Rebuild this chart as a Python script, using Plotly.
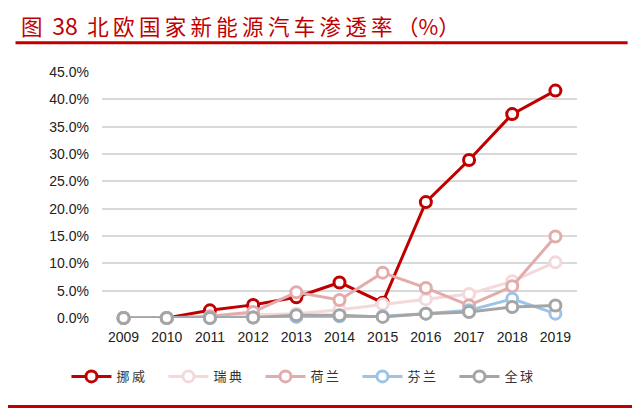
import plotly.graph_objects as go

years = ["2009", "2010", "2011", "2012", "2013", "2014", "2015", "2016", "2017", "2018", "2019"]
norway = [0.0, 0.0, 1.4, 2.4, 3.8, 6.5, 2.8, 21.2, 28.9, 37.3, 41.6]
sweden = [0.0, 0.0, 0.1, 0.6, 0.8, 1.5, 2.5, 3.4, 4.4, 6.7, 10.2]
netherlands = [0.0, 0.0, 0.3, 1.1, 4.7, 3.3, 8.3, 5.5, 2.3, 5.8, 14.9]
finland = [0.0, 0.0, 0.0, 0.1, 0.2, 0.3, 0.3, 0.8, 1.4, 3.5, 0.8]
world = [0.0, 0.0, 0.0, 0.1, 0.5, 0.5, 0.2, 0.8, 1.1, 2.0, 2.3]

names = ["挪威", "瑞典", "荷兰", "芬兰", "全球"]
colors = ["#C00000", "#F3D9D9", "#E3ACAC", "#9DC3E6", "#A5A5A5"]
series = [norway, sweden, netherlands, finland, world]

y_ticks = [0, 5, 10, 15, 20, 25, 30, 35, 40, 45]
y_tick_text = ["0.0%", "5.0%", "10.0%", "15.0%", "20.0%", "25.0%", "30.0%", "35.0%", "40.0%", "45.0%"]

title_text = ("图\u00a0\u00a0<span style='font-size:23px'>38</span>\u00a0\u00a0"
              "北\u2009欧\u2009国\u2009家\u2009新\u2009能\u2009源\u2009汽\u2009车\u2009渗\u2009透\u2009率\u2009（%）")

fig = go.Figure()
for name, col, vals in zip(names, colors, series):
    fig.add_trace(go.Scatter(
        x=years, y=vals, name="\u2009".join(name), mode="lines+markers",
        line=dict(color=col, width=3),
        marker=dict(symbol="circle", size=11, color="white",
                    line=dict(color=col, width=3)),
        cliponaxis=False,
    ))

# page body has an 8px margin; work in viewport coords and subtract it
OFF = 8
W, H = 640 - OFF, 409 - OFF
px_left, px_right, px_top, px_bottom = 101.6, 577.3, 72.3, 317.7
l = px_left - OFF
r = 640 - px_right
t = px_top - OFF
b = H - (px_bottom - OFF)
pw, ph = W - l - r, H - t - b


def px(xv):
    return (xv - OFF - l) / pw


def py(yv):
    return 1 - (yv - OFF - t) / ph


fig.update_layout(
    width=W, height=H,
    margin=dict(l=l, r=r, t=t, b=b, pad=0, autoexpand=False),
    paper_bgcolor="white", plot_bgcolor="white",
    font=dict(family="Liberation Sans, Arial, sans-serif", color="#333333", size=13),
    showlegend=True,
    legend=dict(
        orientation="h", x=px(66), xanchor="left", y=py(376), yanchor="middle",
        font=dict(family="Noto Sans CJK SC", size=13, color="#333333"),
        entrywidth=42, entrywidthmode="pixels", itemwidth=40,
        bgcolor="rgba(0,0,0,0)",
    ),
    xaxis=dict(
        type="category", range=[-0.5, 10.5], showgrid=False, showline=False,
        zeroline=False, ticks="", tickfont=dict(size=14, color="#222222"),
        ticklabelstandoff=9,
    ),
    yaxis=dict(
        range=[0, 45], tickvals=y_ticks, ticktext=y_tick_text,
        showgrid=True, gridcolor="#D9D9D9", gridwidth=1.5,
        zeroline=False, showline=False, ticks="",
        tickfont=dict(size=14, color="#222222"), ticklabelstandoff=12,
    ),
    annotations=[
        dict(text=title_text, xref="paper", yref="paper",
             x=px(18), xanchor="left", y=py(25), yanchor="middle",
             showarrow=False,
             font=dict(family="Noto Sans CJK SC", size=21.5, color="#C00000")),
    ],
    shapes=[
        dict(type="line", xref="paper", yref="paper",
             x0=px(15), x1=px(628), y0=py(43), y1=py(43),
             line=dict(color="#C00000", width=3)),
        dict(type="line", xref="paper", yref="paper",
             x0=px(0), x1=px(640), y0=py(406), y1=py(406),
             line=dict(color="#C00000", width=3)),
    ],
)

fig.write_html("out.html")
